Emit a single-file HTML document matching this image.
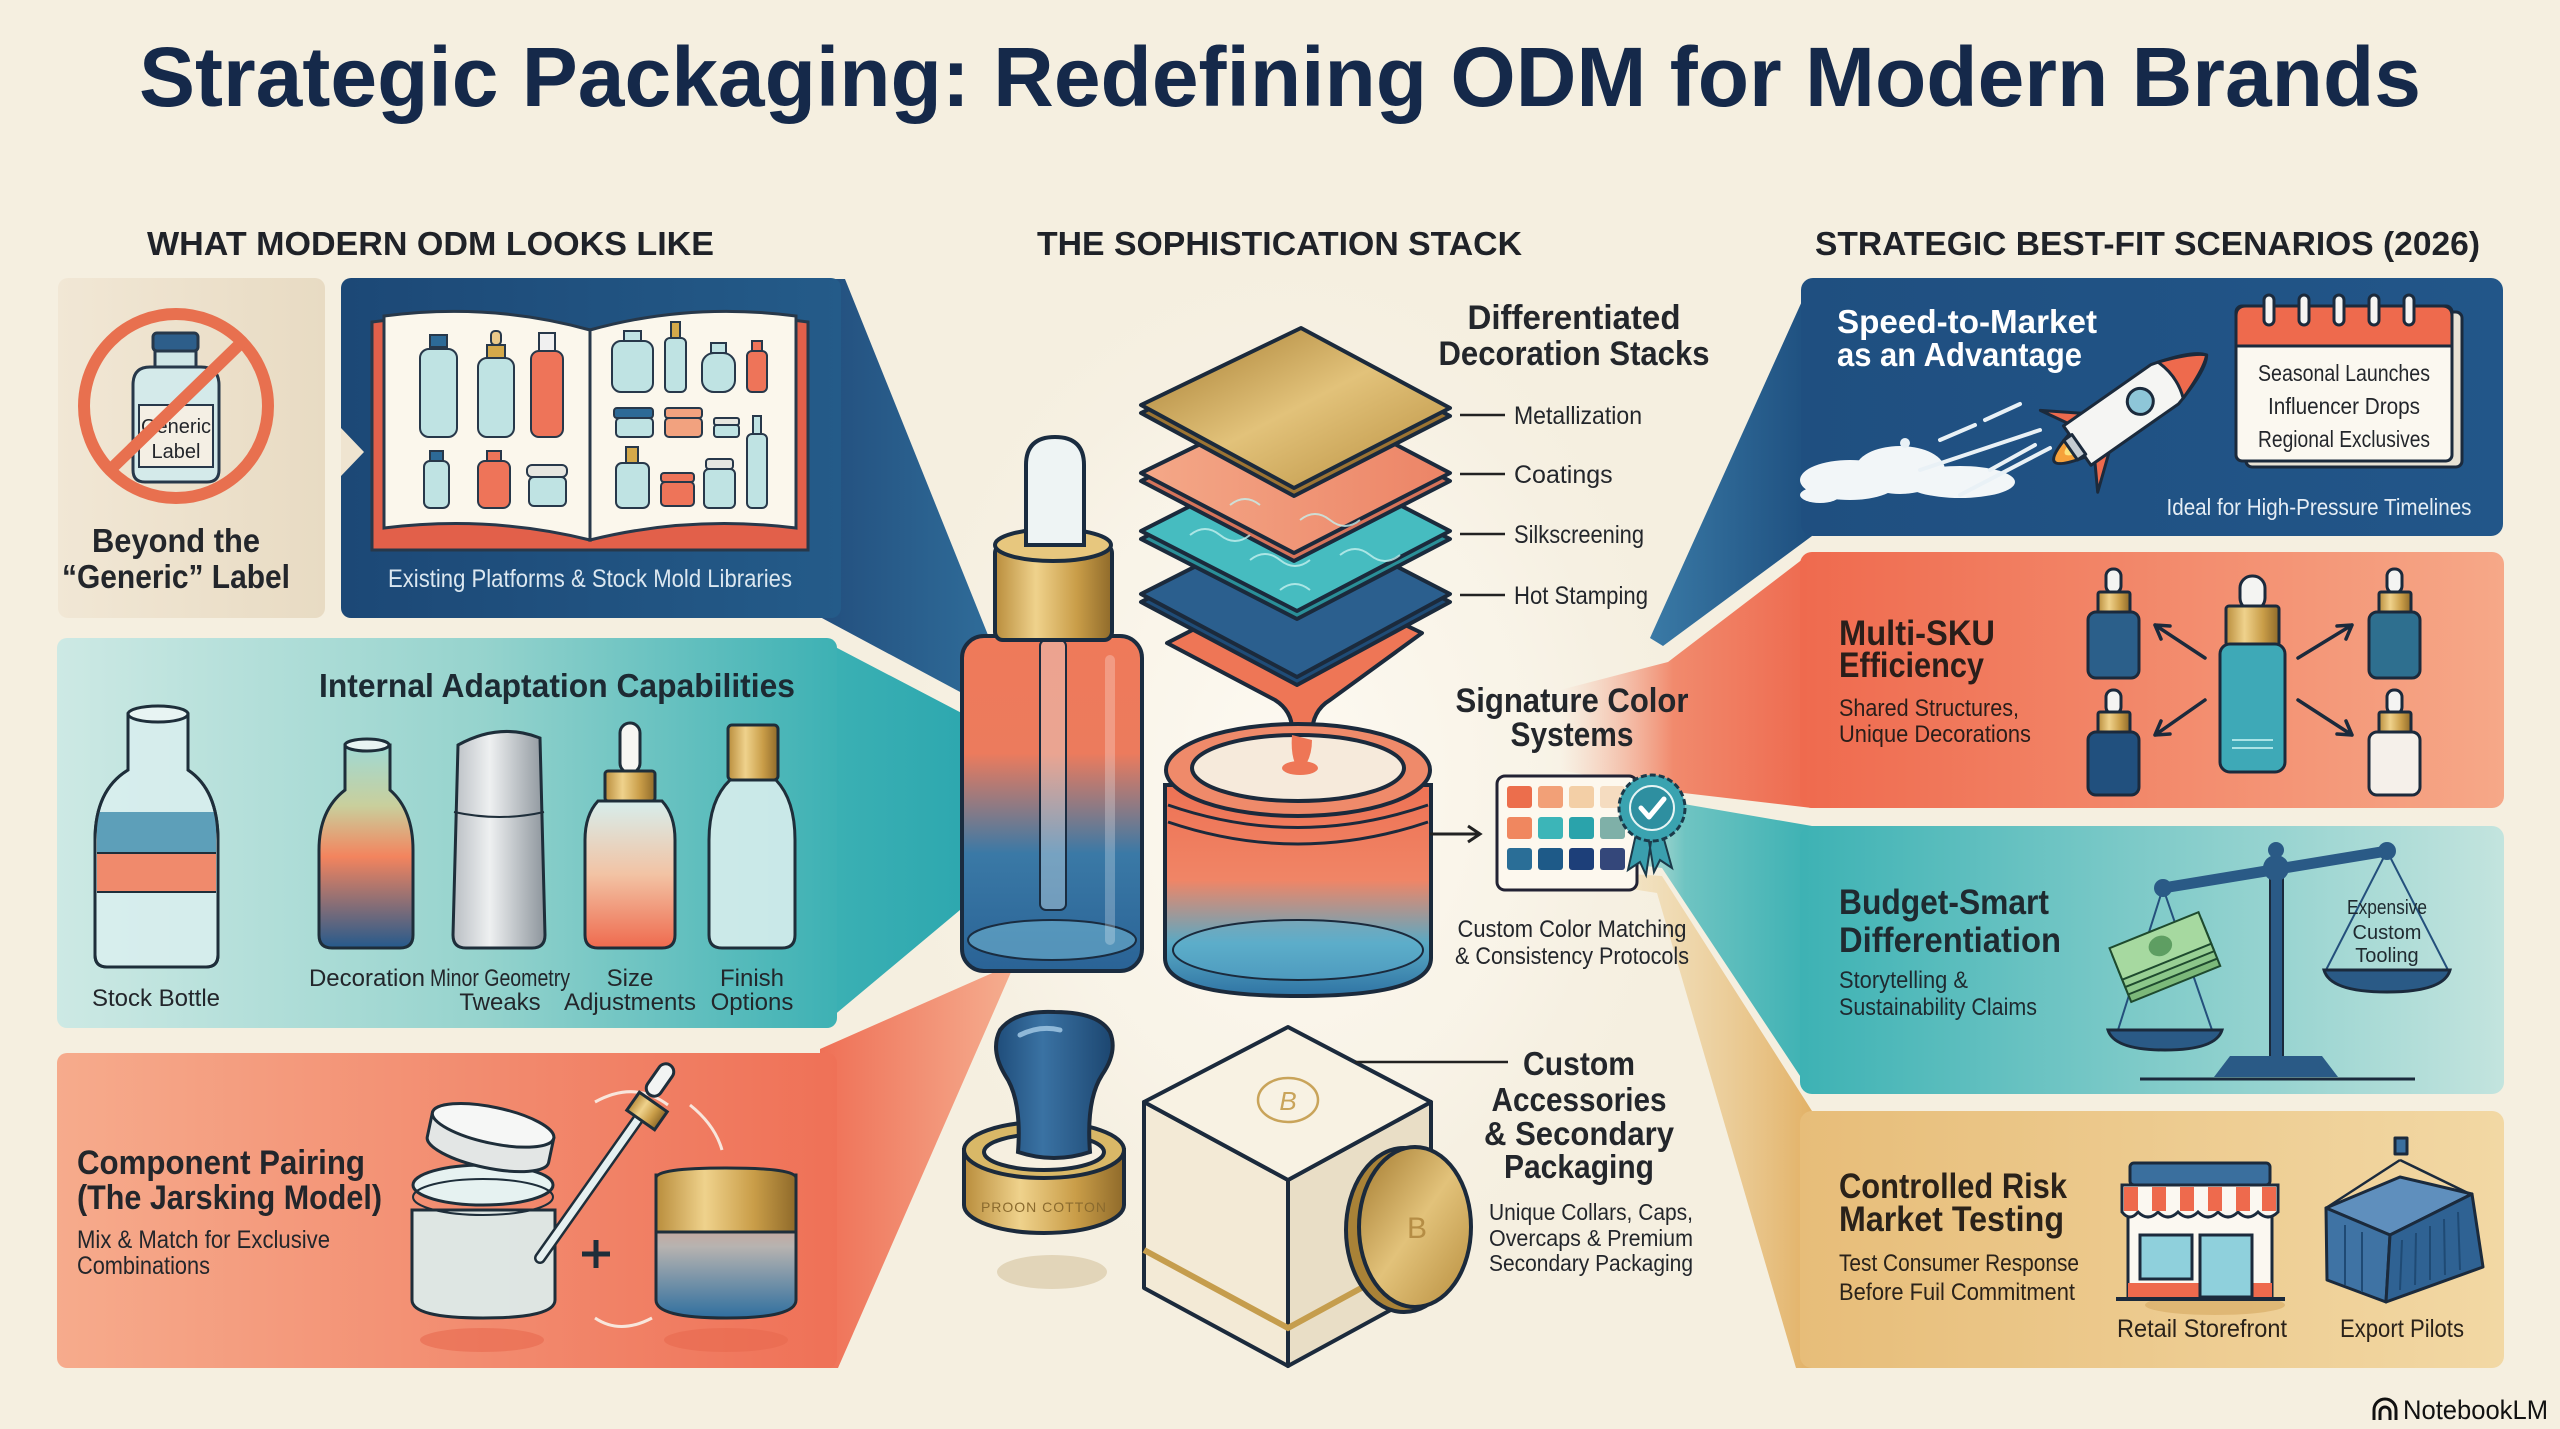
<!DOCTYPE html>
<html><head><meta charset="utf-8">
<style>
html,body{margin:0;padding:0;background:#f5efe0;}
svg{display:block;}
text{font-family:"Liberation Sans",Arial,sans-serif;}
.h{font-weight:bold;fill:#1f2228;}
.s{fill:#23262b;}
</style></head><body>
<svg width="2560" height="1429" viewBox="0 0 2560 1429" xmlns="http://www.w3.org/2000/svg">
<defs>
<radialGradient id="glow" cx="0.5" cy="0.5" r="0.5"><stop offset="0" stop-color="#fdfaf2"/><stop offset="0.6" stop-color="#faf5ea" stop-opacity="0.7"/><stop offset="1" stop-color="#f5efe0" stop-opacity="0"/></radialGradient>
<linearGradient id="gBlueL" x1="0" x2="1"><stop offset="0" stop-color="#1c4876"/><stop offset="1" stop-color="#245b89"/></linearGradient>
<linearGradient id="gTealL" x1="0" x2="1"><stop offset="0" stop-color="#cde9e4"/><stop offset="0.55" stop-color="#95d3cd"/><stop offset="1" stop-color="#3db1b4"/></linearGradient>
<linearGradient id="gOrL" x1="0" x2="1"><stop offset="0" stop-color="#f6ab8c"/><stop offset="1" stop-color="#ef7157"/></linearGradient>
<linearGradient id="gBeyond" x1="0" x2="1"><stop offset="0" stop-color="#f1e7d5"/><stop offset="1" stop-color="#e8dbc3"/></linearGradient>
<linearGradient id="wBlueL" gradientUnits="userSpaceOnUse" x1="820" y1="0" x2="990" y2="0"><stop offset="0" stop-color="#234f7e"/><stop offset="1" stop-color="#2f6c99"/></linearGradient>
<linearGradient id="wTealL" gradientUnits="userSpaceOnUse" x1="820" y1="0" x2="990" y2="0"><stop offset="0" stop-color="#3cb1b4"/><stop offset="1" stop-color="#2ba6ae"/></linearGradient>
<linearGradient id="wOrL" gradientUnits="userSpaceOnUse" x1="820" y1="0" x2="1015" y2="0"><stop offset="0" stop-color="#ef7056"/><stop offset="1" stop-color="#f5ae90"/></linearGradient>
<linearGradient id="gBlueR" x1="0" x2="1"><stop offset="0" stop-color="#1f4f80"/><stop offset="1" stop-color="#225689"/></linearGradient>
<linearGradient id="gOrR" x1="0" x2="1"><stop offset="0" stop-color="#ef6a4e"/><stop offset="1" stop-color="#f6a888"/></linearGradient>
<linearGradient id="gTealR" x1="0" x2="1"><stop offset="0" stop-color="#3db2b4"/><stop offset="1" stop-color="#c3e4de"/></linearGradient>
<linearGradient id="gGoldR" x1="0" x2="1"><stop offset="0" stop-color="#e7bd79"/><stop offset="1" stop-color="#f2d8a4"/></linearGradient>
<linearGradient id="wBlueR" gradientUnits="userSpaceOnUse" x1="1650" y1="0" x2="1812" y2="0"><stop offset="0" stop-color="#3a7aa6"/><stop offset="1" stop-color="#1e4f7f"/></linearGradient>
<linearGradient id="wOrR" gradientUnits="userSpaceOnUse" x1="1560" y1="0" x2="1812" y2="0"><stop offset="0" stop-color="#f5b6a0" stop-opacity="0"/><stop offset="0.45" stop-color="#f18a6d"/><stop offset="1" stop-color="#ee6a4f"/></linearGradient>
<linearGradient id="wTealR" gradientUnits="userSpaceOnUse" x1="1600" y1="0" x2="1812" y2="0"><stop offset="0" stop-color="#b5dfd9" stop-opacity="0.3"/><stop offset="0.4" stop-color="#6fc4c2"/><stop offset="1" stop-color="#3cb1b3"/></linearGradient>
<linearGradient id="wGoldR" gradientUnits="userSpaceOnUse" x1="1600" y1="0" x2="1812" y2="0"><stop offset="0" stop-color="#f1dcae" stop-opacity="0.4"/><stop offset="1" stop-color="#e2b166"/></linearGradient>
<linearGradient id="gold" x1="0" x2="1"><stop offset="0" stop-color="#b98d3c"/><stop offset="0.35" stop-color="#efd28c"/><stop offset="0.7" stop-color="#c99d48"/><stop offset="1" stop-color="#8f6a2a"/></linearGradient>
<linearGradient id="goldD" x1="0" y1="0" x2="1" y2="1"><stop offset="0" stop-color="#a37a2f"/><stop offset="0.5" stop-color="#e2c27a"/><stop offset="1" stop-color="#b88e3e"/></linearGradient>
<linearGradient id="bottleC" x1="0" y1="0" x2="0" y2="1"><stop offset="0" stop-color="#ef7a5a"/><stop offset="0.35" stop-color="#ec7b5d"/><stop offset="0.65" stop-color="#3a79a6"/><stop offset="1" stop-color="#2a6396"/></linearGradient>
<linearGradient id="jarC" x1="0" y1="0" x2="0" y2="1"><stop offset="0" stop-color="#ee7254"/><stop offset="0.45" stop-color="#f08566"/><stop offset="0.75" stop-color="#59a9c4"/><stop offset="1" stop-color="#2f74a4"/></linearGradient>
<linearGradient id="decoB" x1="0" y1="0" x2="0" y2="1"><stop offset="0" stop-color="#9fd9d4"/><stop offset="0.3" stop-color="#c9cf9c"/><stop offset="0.55" stop-color="#f3845e"/><stop offset="1" stop-color="#255a8c"/></linearGradient>
<linearGradient id="silver" x1="0" x2="1"><stop offset="0" stop-color="#b9bec3"/><stop offset="0.4" stop-color="#eef0f1"/><stop offset="1" stop-color="#8d959c"/></linearGradient>
<linearGradient id="sizeB" x1="0" y1="0" x2="0" y2="1"><stop offset="0" stop-color="#d7eeec"/><stop offset="0.5" stop-color="#f2c3a4"/><stop offset="1" stop-color="#ef6a4e"/></linearGradient>
<linearGradient id="jarR" x1="0" y1="0" x2="0" y2="1"><stop offset="0" stop-color="#ef8366"/><stop offset="0.5" stop-color="#b7b3b0"/><stop offset="1" stop-color="#2f6f9f"/></linearGradient>
<linearGradient id="coral" x1="0" x2="1"><stop offset="0" stop-color="#f4a888"/><stop offset="1" stop-color="#ec8466"/></linearGradient>
<linearGradient id="knob" x1="0" x2="1"><stop offset="0" stop-color="#1f4d7a"/><stop offset="0.4" stop-color="#3a72a3"/><stop offset="1" stop-color="#1c4670"/></linearGradient>
</defs>

<rect width="2560" height="1429" fill="#f5efe0"/>
<ellipse cx="1290" cy="780" rx="420" ry="560" fill="url(#glow)"/>

<!-- Title -->
<text x="139" y="106" font-size="84" font-weight="bold" fill="#15294a" textLength="2282" lengthAdjust="spacingAndGlyphs">Strategic Packaging: Redefining ODM for Modern Brands</text>

<!-- Section headers -->
<text x="147" y="255" font-size="33" class="h" textLength="567" lengthAdjust="spacingAndGlyphs">WHAT MODERN ODM LOOKS LIKE</text>
<text x="1037" y="255" font-size="33" class="h" textLength="485" lengthAdjust="spacingAndGlyphs">THE SOPHISTICATION STACK</text>
<text x="1815" y="255" font-size="33" class="h" textLength="665" lengthAdjust="spacingAndGlyphs">STRATEGIC BEST-FIT SCENARIOS (2026)</text>

<!-- Wedges -->
<polygon points="820,279 845,279 990,640 990,708 820,617" fill="url(#wBlueL)"/>
<polygon points="820,639 975,720 990,720 990,905 960,910 820,1027" fill="url(#wTealL)"/>
<polygon points="820,1049 1015,963 838,1368 820,1368" fill="url(#wOrL)"/>
<polygon points="1812,279 1812,536 1663,646 1650,638" fill="url(#wBlueR)"/>
<polygon points="1812,552 1812,808 1675,792 1560,770 1560,690 1668,662" fill="url(#wOrR)"/>
<polygon points="1812,826 1812,1094 1662,868 1600,860 1600,812 1672,802" fill="url(#wTealR)"/>
<polygon points="1812,1111 1812,1368 1796,1368 1657,893 1600,884 1600,872 1662,876" fill="url(#wGoldR)"/>

<!-- LEFT: Beyond box -->
<rect x="58" y="278" width="267" height="340" rx="10" fill="url(#gBeyond)"/>
<g stroke="#27384a" stroke-width="3">
<rect x="153" y="333" width="45" height="18" rx="4" fill="#2d5e8a"/>
<rect x="155" y="351" width="41" height="16" fill="#cfe6e6"/>
<path d="M133,385 Q133,367 150,367 L201,367 Q219,367 219,385 L219,470 Q219,482 207,482 L145,482 Q133,482 133,470 Z" fill="#d4eaea"/>
<rect x="139" y="405" width="74" height="62" fill="#f4efe4" stroke-width="2"/>
</g>
<text x="176" y="433" font-size="20" text-anchor="middle" class="s">Generic</text>
<text x="176" y="458" font-size="20" text-anchor="middle" class="s">Label</text>
<circle cx="176" cy="406" r="92" fill="none" stroke="#e8704f" stroke-width="12"/>
<line x1="242" y1="342" x2="110" y2="470" stroke="#e8704f" stroke-width="12" stroke-linecap="round"/>
<text x="176" y="552" font-size="33" font-weight="bold" text-anchor="middle" class="s" textLength="168" lengthAdjust="spacingAndGlyphs">Beyond the</text>
<text x="176" y="588" font-size="33" font-weight="bold" text-anchor="middle" class="s" textLength="228" lengthAdjust="spacingAndGlyphs">“Generic” Label</text>

<!-- LEFT: Blue book box -->
<rect x="341" y="278" width="500" height="340" rx="10" fill="url(#gBlueL)"/>
<polygon points="341,428 364,452 341,476" fill="#efe4d0"/>
<path d="M372,322 Q490,306 590,330 Q690,306 808,322 L808,550 L372,550 Z" fill="#e2604a" stroke="#27384a" stroke-width="3"/>
<path d="M384,316 Q490,302 590,330 L590,540 Q490,515 384,528 Z" fill="#fbf7ec" stroke="#27384a" stroke-width="3"/>
<path d="M590,330 Q690,302 796,316 L796,528 Q690,515 590,540 Z" fill="#fbf7ec" stroke="#27384a" stroke-width="3"/>
<g stroke="#27384a" stroke-width="2">
<rect x="430" y="335" width="17" height="12" fill="#2d6a96"/><rect x="420" y="349" width="37" height="88" rx="9" fill="#bfe3e3"/>
<rect x="491" y="331" width="10" height="14" rx="4" fill="#e9c98a"/><rect x="487" y="345" width="18" height="13" fill="#d4a94a"/><rect x="478" y="358" width="36" height="79" rx="9" fill="#bfe3e3"/>
<rect x="539" y="333" width="16" height="18" fill="#f0f0f0"/><rect x="531" y="351" width="32" height="86" rx="8" fill="#ee7459"/>
<rect x="430" y="451" width="13" height="10" fill="#2d6a96"/><rect x="424" y="461" width="25" height="47" rx="6" fill="#bfe3e3"/>
<rect x="487" y="451" width="14" height="10" fill="#ee7459"/><rect x="478" y="461" width="32" height="47" rx="7" fill="#ee7459"/>
<rect x="527" y="465" width="40" height="12" rx="5" fill="#e6e6e0"/><rect x="529" y="477" width="37" height="29" rx="5" fill="#bfe3e3"/>
<rect x="624" y="331" width="17" height="10" fill="#bfe3e3"/><rect x="612" y="341" width="41" height="51" rx="9" fill="#bfe3e3"/>
<rect x="671" y="322" width="9" height="16" fill="#d4a94a"/><rect x="665" y="338" width="21" height="54" rx="5" fill="#bfe3e3"/>
<rect x="711" y="343" width="15" height="10" fill="#bfe3e3"/><rect x="702" y="353" width="33" height="39" rx="12" fill="#bfe3e3"/>
<rect x="752" y="341" width="10" height="10" fill="#ee7459"/><rect x="747" y="351" width="20" height="41" rx="5" fill="#ee7459"/>
<rect x="614" y="408" width="39" height="10" rx="3" fill="#2d6a96"/><rect x="616" y="418" width="37" height="19" rx="4" fill="#bfe3e3"/>
<rect x="665" y="408" width="37" height="10" rx="3" fill="#f2a27f"/><rect x="665" y="418" width="37" height="19" rx="4" fill="#f2a27f"/>
<rect x="714" y="418" width="25" height="7" rx="2" fill="#e6e6e0"/><rect x="714" y="425" width="25" height="12" rx="3" fill="#bfe3e3"/>
<rect x="626" y="447" width="12" height="16" fill="#d4a94a"/><rect x="616" y="463" width="33" height="45" rx="6" fill="#bfe3e3"/>
<rect x="661" y="473" width="33" height="9" rx="3" fill="#ee7459"/><rect x="661" y="482" width="33" height="24" rx="4" fill="#ee7459"/>
<rect x="706" y="459" width="27" height="10" rx="3" fill="#e6e6e0"/><rect x="704" y="469" width="31" height="39" rx="5" fill="#bfe3e3"/>
<rect x="753" y="416" width="8" height="18" fill="#bfe3e3"/><rect x="747" y="434" width="20" height="74" rx="5" fill="#bfe3e3"/>
</g>
<text x="590" y="587" font-size="25" text-anchor="middle" fill="#dbe7f0" textLength="404" lengthAdjust="spacingAndGlyphs">Existing Platforms &amp; Stock Mold Libraries</text>

<!-- LEFT: Teal box -->
<rect x="57" y="638" width="780" height="390" rx="10" fill="url(#gTealL)"/>
<text x="319" y="697" font-size="33" font-weight="bold" fill="#1d2a33" textLength="476" lengthAdjust="spacingAndGlyphs">Internal Adaptation Capabilities</text>
<g stroke="#1e2e3a" stroke-width="3">
<path d="M95,955 L95,840 Q95,790 128,770 L128,714 L188,714 L188,770 Q218,790 218,840 L218,955 Q218,967 206,967 L107,967 Q95,967 95,955 Z" fill="#d9efee" fill-opacity="0.85"/>
<path d="M97,812 L216,812 L216,853 L97,853 Z" fill="#5d9fb9" stroke="none"/>
<path d="M97,853 L216,853 L216,892 L97,892 Z" fill="#f08a6c" stroke="none"/>
<path d="M95,955 L95,840 Q95,790 128,770 L128,714 L188,714 L188,770 Q218,790 218,840 L218,955 Q218,967 206,967 L107,967 Q95,967 95,955 Z" fill="none"/>
<ellipse cx="158" cy="714" rx="30" ry="8" fill="#e8f4f3"/>
<line x1="97" y1="853" x2="216" y2="853" stroke-width="2"/><line x1="97" y1="892" x2="216" y2="892" stroke-width="2"/>
<path d="M345,745 L390,745 L390,790 Q413,810 413,850 L413,935 Q413,948 400,948 L332,948 Q319,948 319,935 L319,850 Q319,810 345,790 Z" fill="url(#decoB)"/>
<ellipse cx="367" cy="745" rx="22" ry="6" fill="#e8f4f3"/>
<path d="M458,745 Q500,722 540,738 L545,935 Q545,948 532,948 L466,948 Q453,948 453,935 Z" fill="url(#silver)"/>
<path d="M454,812 Q500,822 544,812" fill="none" stroke-width="2"/>
<rect x="620" y="723" width="20" height="50" rx="10" fill="#f6f6f2"/>
<rect x="605" y="771" width="50" height="30" rx="3" fill="url(#gold)"/>
<path d="M598,801 L662,801 Q675,815 675,840 L675,935 Q675,948 662,948 L598,948 Q585,948 585,935 L585,840 Q585,815 598,801 Z" fill="url(#sizeB)"/>
<rect x="728" y="725" width="50" height="55" rx="4" fill="url(#gold)"/>
<path d="M730,780 L776,780 Q795,800 795,840 L795,935 Q795,948 782,948 L722,948 Q709,948 709,935 L709,840 Q709,800 730,780 Z" fill="#dff1f0" fill-opacity="0.85"/>
</g>
<g font-size="24" class="s" text-anchor="middle">
<text x="156" y="1006">Stock Bottle</text>
<text x="367" y="986">Decoration</text>
<text x="500" y="986" textLength="140" lengthAdjust="spacingAndGlyphs">Minor Geometry</text>
<text x="500" y="1010">Tweaks</text>
<text x="630" y="986">Size</text>
<text x="630" y="1010">Adjustments</text>
<text x="752" y="986">Finish</text>
<text x="752" y="1010">Options</text>
</g>

<!-- LEFT: Orange box -->
<rect x="57" y="1053" width="780" height="315" rx="10" fill="url(#gOrL)"/>
<text x="77" y="1174" font-size="34" font-weight="bold" class="s" textLength="288" lengthAdjust="spacingAndGlyphs">Component Pairing</text>
<text x="77" y="1209" font-size="34" font-weight="bold" class="s" textLength="305" lengthAdjust="spacingAndGlyphs">(The Jarsking Model)</text>
<text x="77" y="1248" font-size="25" class="s" textLength="253" lengthAdjust="spacingAndGlyphs">Mix &amp; Match for Exclusive</text>
<text x="77" y="1274" font-size="25" class="s" textLength="133" lengthAdjust="spacingAndGlyphs">Combinations</text>
<ellipse cx="482" cy="1340" rx="62" ry="12" fill="#e8694f" opacity="0.6"/>
<ellipse cx="726" cy="1340" rx="62" ry="12" fill="#e8694f" opacity="0.6"/>
<path d="M595,1102 Q635,1080 668,1105" fill="none" stroke="#f8e6dc" stroke-width="3"/>
<path d="M690,1105 Q715,1125 722,1150" fill="none" stroke="#f8e6dc" stroke-width="3"/>
<path d="M595,1318 Q620,1335 652,1318" fill="none" stroke="#f8e6dc" stroke-width="3"/>
<g stroke="#1e2e3a" stroke-width="3">
<path d="M412,1210 L555,1210 L555,1300 Q555,1318 483,1318 Q412,1318 412,1300 Z" fill="#dcefef" fill-opacity="0.9"/>
<ellipse cx="483" cy="1185" rx="70" ry="20" fill="#e6f2f1"/>
<ellipse cx="483" cy="1197" rx="70" ry="18" fill="none" stroke-width="2"/>
<g transform="rotate(12 490 1140)">
<path d="M428,1125 L428,1150 A62,18 0 0 0 552,1150 L552,1125 Z" fill="#e3e6e5"/>
<ellipse cx="490" cy="1125" rx="62" ry="18" fill="#f6f7f6"/>
</g>
<line x1="540" y1="1258" x2="648" y2="1105" stroke-width="12" stroke-linecap="round"/>
<line x1="540" y1="1258" x2="648" y2="1105" stroke="#e6f0f0" stroke-width="7" stroke-linecap="round"/>
<rect x="630" y="1100" width="34" height="22" transform="rotate(35 647 1111)" fill="url(#gold)"/>
<rect x="652" y="1062" width="16" height="36" rx="8" transform="rotate(35 660 1080)" fill="#f2f4f3"/>
<path d="M656,1175 L796,1175 L796,1300 Q796,1318 726,1318 Q656,1318 656,1300 Z" fill="url(#jarR)"/>
<path d="M656,1178 Q656,1168 726,1168 Q796,1168 796,1178 L796,1232 L656,1232 Z" fill="url(#gold)"/>
</g>
<path d="M596,1240 L596,1268 M582,1254 L610,1254" stroke="#1e2e3a" stroke-width="5"/>

<!-- CENTER: dropper bottle -->
<g stroke="#1a2c40" stroke-width="4">
<rect x="962" y="636" width="180" height="335" rx="22" fill="url(#bottleC)"/>
<ellipse cx="1052" cy="940" rx="84" ry="20" fill="#6fb3d0" fill-opacity="0.6" stroke-width="2"/>
<rect x="1040" y="640" width="26" height="270" rx="6" fill="#e9f2f3" fill-opacity="0.35" stroke-width="2"/>
<rect x="995" y="545" width="117" height="95" rx="8" fill="url(#gold)"/>
<ellipse cx="1053" cy="545" rx="58" ry="16" fill="#e7c77e"/>
<path d="M1026,545 L1026,465 Q1026,437 1055,437 Q1084,437 1084,465 L1084,545 Z" fill="#eef4f4"/>
</g>
<rect x="1105" y="655" width="10" height="290" rx="5" fill="#ffffff" opacity="0.25"/>

<!-- CENTER: decoration stack -->
<g stroke="#1b2a3c" stroke-width="4" stroke-linejoin="round">
<path d="M1167,643 L1300,575 L1422,633 L1330,700 Q1310,712 1312,740 Q1314,770 1300,772 Q1288,770 1292,735 Q1294,712 1275,700 Z" fill="#ee7656"/>
<polygon points="1141,602 1297,523 1450,602 1297,685" fill="#1f4c77"/>
<polygon points="1141,594 1297,515 1450,594 1297,677" fill="#2b5f8e"/>
<polygon points="1141,539 1297,460 1450,539 1297,619" fill="#2a8f98"/>
<polygon points="1141,531 1297,452 1450,531 1297,611" fill="#46bcc0"/>
<polygon points="1141,481 1301,403 1450,481 1294,561" fill="#d6735a"/>
<polygon points="1141,473 1301,395 1450,473 1294,553" fill="url(#coral)"/>
<polygon points="1141,413 1301,336 1450,416 1294,496" fill="#9c7433"/>
<polygon points="1141,405 1301,328 1450,408 1294,488" fill="url(#goldD)"/>
</g>
<g fill="none" stroke="#c6f0ee" stroke-width="2" opacity="0.8">
<path d="M1190,535 q15,-12 30,0 t30,0 M1250,560 q15,-12 30,0 t30,0 M1300,520 q15,-12 30,0 t30,0 M1340,555 q15,-12 30,0 t30,0 M1230,505 q15,-12 30,0 M1280,590 q15,-12 30,0"/>
</g>
<g stroke="#222" stroke-width="2.5">
<line x1="1460" y1="415" x2="1505" y2="415"/><line x1="1460" y1="474" x2="1505" y2="474"/><line x1="1460" y1="534" x2="1505" y2="534"/><line x1="1460" y1="595" x2="1505" y2="595"/>
</g>
<g font-size="25" class="s">
<text x="1514" y="424" textLength="128" lengthAdjust="spacingAndGlyphs">Metallization</text>
<text x="1514" y="483">Coatings</text>
<text x="1514" y="543" textLength="130" lengthAdjust="spacingAndGlyphs">Silkscreening</text>
<text x="1514" y="604" textLength="134" lengthAdjust="spacingAndGlyphs">Hot Stamping</text>
</g>
<text x="1574" y="329" font-size="34" font-weight="bold" text-anchor="middle" class="s" textLength="213" lengthAdjust="spacingAndGlyphs">Differentiated</text>
<text x="1574" y="365" font-size="34" font-weight="bold" text-anchor="middle" class="s" textLength="271" lengthAdjust="spacingAndGlyphs">Decoration Stacks</text>

<!-- CENTER: jar -->
<g stroke="#1b2a3c" stroke-width="4">
<path d="M1165,785 L1165,958 Q1165,996 1298,996 Q1431,996 1431,958 L1431,785 Z" fill="url(#jarC)"/>
<ellipse cx="1298" cy="950" rx="125" ry="30" fill="#5fb1cf" fill-opacity="0.5" stroke-width="2"/>
<path d="M1168,805 Q1298,850 1428,805" fill="none" stroke-width="3"/>
<path d="M1168,822 Q1298,866 1428,822" fill="none" stroke-width="3"/>
<ellipse cx="1298" cy="770" rx="132" ry="46" fill="#ef8a6a"/>
<ellipse cx="1298" cy="768" rx="106" ry="33" fill="#f6eadb"/>
</g>
<path d="M1292,735 Q1290,760 1300,772 Q1312,760 1312,740" fill="#ee7656"/>
<ellipse cx="1300" cy="768" rx="18" ry="7" fill="#ee7656"/>

<!-- CENTER: signature color -->
<text x="1572" y="712" font-size="34" font-weight="bold" text-anchor="middle" class="s" textLength="233" lengthAdjust="spacingAndGlyphs">Signature Color</text>
<text x="1572" y="746" font-size="34" font-weight="bold" text-anchor="middle" class="s" textLength="123" lengthAdjust="spacingAndGlyphs">Systems</text>
<line x1="1430" y1="834" x2="1478" y2="834" stroke="#222" stroke-width="3"/>
<path d="M1468,826 L1480,834 L1468,842" fill="none" stroke="#222" stroke-width="3"/>
<rect x="1497" y="776" width="140" height="114" rx="8" fill="#fdf8ee" stroke="#223" stroke-width="3"/>
<g>
<rect x="1507" y="786" width="25" height="22" rx="3" fill="#ec6e4c"/><rect x="1538" y="786" width="25" height="22" rx="3" fill="#f2a077"/><rect x="1569" y="786" width="25" height="22" rx="3" fill="#f3cfa6"/><rect x="1600" y="786" width="25" height="22" rx="3" fill="#f5dcc0"/>
<rect x="1507" y="817" width="25" height="22" rx="3" fill="#f0875f"/><rect x="1538" y="817" width="25" height="22" rx="3" fill="#3cb5b8"/><rect x="1569" y="817" width="25" height="22" rx="3" fill="#2aa3ab"/><rect x="1600" y="817" width="25" height="22" rx="3" fill="#7fb0a8"/>
<rect x="1507" y="848" width="25" height="22" rx="3" fill="#2a6e97"/><rect x="1538" y="848" width="25" height="22" rx="3" fill="#1e5a88"/><rect x="1569" y="848" width="25" height="22" rx="3" fill="#1d3f79"/><rect x="1600" y="848" width="25" height="22" rx="3" fill="#34477a"/>
</g>
<path d="M1638,825 L1628,870 L1640,862 L1646,875 L1652,835 Z M1660,825 L1672,868 L1660,860 L1654,872 L1648,835 Z" fill="#3a9fae" stroke="#1b3a4a" stroke-width="2"/>
<circle cx="1652" cy="808" r="33" fill="#3aa3b0" stroke="#1b3a4a" stroke-width="3" stroke-dasharray="6 3"/>
<circle cx="1652" cy="808" r="22" fill="#2e8fa0" stroke="#e6f4f4" stroke-width="2"/>
<path d="M1641,808 L1649,817 L1664,799" fill="none" stroke="#fff" stroke-width="5" stroke-linecap="round" stroke-linejoin="round"/>
<text x="1572" y="937" font-size="24" text-anchor="middle" class="s" textLength="229" lengthAdjust="spacingAndGlyphs">Custom Color Matching</text>
<text x="1572" y="964" font-size="24" text-anchor="middle" class="s" textLength="234" lengthAdjust="spacingAndGlyphs">&amp; Consistency Protocols</text>

<!-- CENTER: stamp -->
<ellipse cx="1052" cy="1272" rx="55" ry="17" fill="#e2d5b9"/>
<g stroke="#1b2a3c" stroke-width="4">
<path d="M964,1150 L964,1205 A80,28 0 0 0 1124,1205 L1124,1150 Z" fill="url(#gold)"/>
<ellipse cx="1044" cy="1150" rx="80" ry="28" fill="#d9b867"/>
<ellipse cx="1044" cy="1152" rx="60" ry="18" fill="#f6efe0"/>
<path d="M1018,1152 Q1022,1100 1005,1075 Q990,1050 1000,1030 Q1015,1010 1055,1012 Q1098,1012 1110,1032 Q1118,1052 1102,1075 Q1086,1100 1090,1152 Q1054,1164 1018,1152 Z" fill="url(#knob)"/>
</g>
<path d="M1020,1035 Q1040,1025 1060,1030" fill="none" stroke="#8fb8d8" stroke-width="5" stroke-linecap="round"/>
<text x="1044" y="1212" font-size="14" text-anchor="middle" fill="#8a6a2e" letter-spacing="1">PROON COTTON</text>

<!-- CENTER: box & coin -->
<g stroke="#1b2a3c" stroke-width="4" stroke-linejoin="round">
<polygon points="1144,1102 1288,1180 1288,1366 1144,1288" fill="#f3ead6"/>
<polygon points="1288,1180 1431,1102 1431,1288 1288,1366" fill="#e9dec6"/>
<polygon points="1288,1027 1431,1102 1288,1180 1144,1102" fill="#f8f2e3"/>
</g>
<polyline points="1144,1250 1288,1328 1431,1250" fill="none" stroke="#c59d4d" stroke-width="6"/>
<ellipse cx="1288" cy="1100" rx="30" ry="22" fill="none" stroke="#c9a45a" stroke-width="2.5"/>
<text x="1288" y="1110" font-size="26" text-anchor="middle" fill="#c9a45a" font-style="italic">B</text>
<line x1="1355" y1="1062" x2="1508" y2="1062" stroke="#222" stroke-width="2.5"/>
<g stroke="#1b2a3c" stroke-width="4">
<ellipse cx="1404" cy="1230" rx="58" ry="82" fill="#a98237"/>
<ellipse cx="1415" cy="1227" rx="56" ry="80" fill="url(#goldD)"/>
</g>
<text x="1417" y="1238" font-size="30" text-anchor="middle" fill="#b58d45">B</text>

<text x="1579" y="1075" font-size="33" font-weight="bold" text-anchor="middle" class="s" textLength="112" lengthAdjust="spacingAndGlyphs">Custom</text>
<text x="1579" y="1111" font-size="33" font-weight="bold" text-anchor="middle" class="s" textLength="175" lengthAdjust="spacingAndGlyphs">Accessories</text>
<text x="1579" y="1145" font-size="33" font-weight="bold" text-anchor="middle" class="s" textLength="190" lengthAdjust="spacingAndGlyphs">&amp; Secondary</text>
<text x="1579" y="1178" font-size="33" font-weight="bold" text-anchor="middle" class="s" textLength="150" lengthAdjust="spacingAndGlyphs">Packaging</text>
<text x="1591" y="1220" font-size="23" text-anchor="middle" class="s" textLength="204" lengthAdjust="spacingAndGlyphs">Unique Collars, Caps,</text>
<text x="1591" y="1246" font-size="23" text-anchor="middle" class="s" textLength="204" lengthAdjust="spacingAndGlyphs">Overcaps &amp; Premium</text>
<text x="1591" y="1271" font-size="23" text-anchor="middle" class="s" textLength="204" lengthAdjust="spacingAndGlyphs">Secondary Packaging</text>

<!-- RIGHT: blue box -->
<rect x="1801" y="278" width="702" height="258" rx="12" fill="url(#gBlueR)"/>
<text x="1837" y="333" font-size="33" font-weight="bold" fill="#ffffff" textLength="260" lengthAdjust="spacingAndGlyphs">Speed-to-Market</text>
<text x="1837" y="366" font-size="33" font-weight="bold" fill="#ffffff" textLength="245" lengthAdjust="spacingAndGlyphs">as an Advantage</text>
<g fill="#f2f6f8">
<ellipse cx="1850" cy="480" rx="50" ry="20"/><ellipse cx="1900" cy="470" rx="45" ry="24"/><ellipse cx="1960" cy="482" rx="55" ry="16"/><ellipse cx="1820" cy="495" rx="20" ry="8"/>
</g>
<g stroke="#e9f1f6" stroke-width="4" stroke-linecap="round">
<line x1="1920" y1="470" x2="2040" y2="430"/><line x1="1960" y1="495" x2="2050" y2="448"/><line x1="1990" y1="470" x2="2035" y2="445"/><line x1="1940" y1="440" x2="1975" y2="425"/><line x1="1985" y1="420" x2="2020" y2="404"/>
</g>
<circle cx="1905" cy="443" r="5" fill="#e9f1f6"/>
<g transform="translate(2128,410) rotate(-35)" stroke="#1b2a3c" stroke-width="3" stroke-linejoin="round">
<path d="M-62,-14 Q-118,0 -62,14 Z" fill="#f6a13a"/>
<path d="M-62,-8 Q-92,0 -62,8 Z" fill="#fde17a" stroke="none"/>
<path d="M-40,-24 L-72,-50 L-56,-22 Z" fill="#ee6a4d"/>
<path d="M-40,24 L-72,50 L-56,22 Z" fill="#ee6a4d"/>
<path d="M-62,-24 L45,-24 Q88,-12 96,0 Q88,12 45,24 L-62,24 Z" fill="#f5f5f3"/>
<path d="M52,-22 Q86,-10 96,0 Q86,10 52,22 Q60,0 52,-22 Z" fill="#ee6a4d"/>
<circle cx="15" cy="0" r="13" fill="#8ec6d8"/>
<rect x="-70" y="-12" width="10" height="24" fill="#c5ccd2"/>
</g>
<g stroke="#1b2a3c" stroke-width="3">
<rect x="2246" y="312" width="216" height="155" rx="6" fill="#e8e2d4"/>
<rect x="2236" y="306" width="216" height="155" rx="6" fill="#fbf8f0"/>
<path d="M2236,346 L2236,316 Q2236,306 2246,306 L2442,306 Q2452,306 2452,316 L2452,346 Z" fill="#ee6a4d"/>
</g>
<g stroke="#1b2a3c" stroke-width="3" fill="#f5f5f3">
<rect x="2264" y="295" width="10" height="30" rx="5"/><rect x="2299" y="295" width="10" height="30" rx="5"/><rect x="2334" y="295" width="10" height="30" rx="5"/><rect x="2369" y="295" width="10" height="30" rx="5"/><rect x="2404" y="295" width="10" height="30" rx="5"/>
</g>
<g font-size="23" text-anchor="middle" class="s">
<text x="2344" y="381" textLength="172" lengthAdjust="spacingAndGlyphs">Seasonal Launches</text>
<text x="2344" y="414" textLength="152" lengthAdjust="spacingAndGlyphs">Influencer Drops</text>
<text x="2344" y="447" textLength="172" lengthAdjust="spacingAndGlyphs">Regional Exclusives</text>
</g>
<text x="2319" y="515" font-size="23" text-anchor="middle" fill="#e6eef5" textLength="305" lengthAdjust="spacingAndGlyphs">Ideal for High-Pressure Timelines</text>

<!-- RIGHT: orange box -->
<rect x="1800" y="552" width="704" height="256" rx="12" fill="url(#gOrR)"/>
<text x="1839" y="645" font-size="35" font-weight="bold" fill="#2a1e1a" textLength="156" lengthAdjust="spacingAndGlyphs">Multi-SKU</text>
<text x="1839" y="677" font-size="35" font-weight="bold" fill="#2a1e1a" textLength="145" lengthAdjust="spacingAndGlyphs">Efficiency</text>
<text x="1839" y="716" font-size="24" fill="#2a1e1a" textLength="180" lengthAdjust="spacingAndGlyphs">Shared Structures,</text>
<text x="1839" y="742" font-size="24" fill="#2a1e1a" textLength="192" lengthAdjust="spacingAndGlyphs">Unique Decorations</text>
<g stroke="#1b2a3c" stroke-width="3">
<rect x="2240" y="576" width="25" height="34" rx="12" fill="#f4f4f2"/>
<rect x="2226" y="606" width="53" height="40" rx="3" fill="url(#gold)"/>
<rect x="2220" y="644" width="65" height="128" rx="10" fill="#3ea9b7"/>
<rect x="2106" y="569" width="15" height="24" rx="7" fill="#f4f4f2"/><rect x="2098" y="592" width="32" height="22" rx="2" fill="url(#gold)"/><rect x="2088" y="612" width="51" height="66" rx="8" fill="#2b5f8a"/>
<rect x="2387" y="569" width="15" height="24" rx="7" fill="#f4f4f2"/><rect x="2379" y="592" width="32" height="22" rx="2" fill="url(#gold)"/><rect x="2369" y="612" width="51" height="66" rx="8" fill="#2e6f8f"/>
<rect x="2106" y="690" width="15" height="24" rx="7" fill="#f4f4f2"/><rect x="2098" y="712" width="32" height="22" rx="2" fill="url(#gold)"/><rect x="2088" y="732" width="51" height="63" rx="8" fill="#21507e"/>
<rect x="2387" y="690" width="15" height="24" rx="7" fill="#f4f4f2"/><rect x="2379" y="712" width="32" height="22" rx="2" fill="url(#gold)"/><rect x="2369" y="732" width="51" height="63" rx="8" fill="#f5f0ea"/>
</g>
<g stroke="#a9e3e6" stroke-width="2"><line x1="2232" y1="740" x2="2273" y2="740"/><line x1="2232" y1="748" x2="2273" y2="748"/></g>
<g stroke="#1b2a3c" stroke-width="3.5" fill="none" stroke-linecap="round">
<path d="M2205,658 L2155,625 M2155,625 L2170,626 M2155,625 L2161,639"/>
<path d="M2298,658 L2352,625 M2352,625 L2337,626 M2352,625 L2346,639"/>
<path d="M2205,700 L2155,735 M2155,735 L2161,721 M2155,735 L2170,734"/>
<path d="M2298,700 L2352,735 M2352,735 L2346,721 M2352,735 L2337,734"/>
</g>

<!-- RIGHT: teal box -->
<rect x="1800" y="826" width="704" height="268" rx="12" fill="url(#gTealR)"/>
<text x="1839" y="914" font-size="35" font-weight="bold" fill="#1f2a30" textLength="210" lengthAdjust="spacingAndGlyphs">Budget-Smart</text>
<text x="1839" y="952" font-size="35" font-weight="bold" fill="#1f2a30" textLength="222" lengthAdjust="spacingAndGlyphs">Differentiation</text>
<text x="1839" y="988" font-size="24" fill="#1f2a30" textLength="129" lengthAdjust="spacingAndGlyphs">Storytelling &amp;</text>
<text x="1839" y="1015" font-size="24" fill="#1f2a30" textLength="198" lengthAdjust="spacingAndGlyphs">Sustainability Claims</text>
<g stroke="#24507c" stroke-width="2" fill="none">
<path d="M2163,888 L2118,1030 M2163,888 L2212,1030"/>
<path d="M2387,851 L2326,970 M2387,851 L2448,970"/>
</g>
<path d="M2108,1030 L2222,1030 Q2216,1050 2165,1050 Q2114,1050 2108,1030 Z" fill="#2a5a86" stroke="#1b2a3c" stroke-width="3"/>
<path d="M2324,970 L2450,970 Q2444,992 2387,992 Q2330,992 2324,970 Z" fill="#2a5a86" stroke="#1b2a3c" stroke-width="3"/>
<rect x="2270" y="862" width="13" height="196" fill="#2a5a86" stroke="#1b2a3c" stroke-width="2"/>
<line x1="2163" y1="888" x2="2387" y2="851" stroke="#2a5a86" stroke-width="11" stroke-linecap="round"/>
<circle cx="2163" cy="888" r="9" fill="#2a5a86"/><circle cx="2387" cy="851" r="9" fill="#2a5a86"/>
<circle cx="2276" cy="868" r="13" fill="#2a5a86"/><circle cx="2276" cy="850" r="8" fill="#2a5a86"/>
<path d="M2230,1056 L2322,1056 L2338,1077 L2214,1077 Z" fill="#2a5a86"/>
<line x1="2140" y1="1079" x2="2415" y2="1079" stroke="#1b2a3c" stroke-width="3"/>
<g transform="translate(2160,945) rotate(-22)" stroke="#1e4a2e" stroke-width="2">
<rect x="-48" y="8" width="96" height="34" fill="#7cb97a"/>
<rect x="-48" y="0" width="96" height="34" fill="#8cc78a"/>
<rect x="-48" y="-8" width="96" height="34" fill="#98cf94"/>
<rect x="-48" y="-16" width="96" height="34" fill="#a6d9a0"/>
<ellipse cx="0" cy="1" rx="12" ry="10" fill="#5e9e62" stroke="none"/>
</g>
<g font-size="20" text-anchor="middle" fill="#1f2a30">
<text x="2387" y="914" textLength="80" lengthAdjust="spacingAndGlyphs">Expensive</text>
<text x="2387" y="939">Custom</text>
<text x="2387" y="962">Tooling</text>
</g>

<!-- RIGHT: gold box -->
<rect x="1800" y="1111" width="704" height="257" rx="12" fill="url(#gGoldR)"/>
<text x="1839" y="1198" font-size="35" font-weight="bold" fill="#2a221a" textLength="228" lengthAdjust="spacingAndGlyphs">Controlled Risk</text>
<text x="1839" y="1231" font-size="35" font-weight="bold" fill="#2a221a" textLength="225" lengthAdjust="spacingAndGlyphs">Market Testing</text>
<text x="1839" y="1271" font-size="24" fill="#2a221a" textLength="240" lengthAdjust="spacingAndGlyphs">Test Consumer Response</text>
<text x="1839" y="1300" font-size="24" fill="#2a221a" textLength="236" lengthAdjust="spacingAndGlyphs">Before Fuil Commitment</text>
<ellipse cx="2215" cy="1305" rx="70" ry="10" fill="#d9ae68" opacity="0.7"/>
<g stroke="#1b2a3c" stroke-width="3">
<rect x="2128" y="1212" width="144" height="86" fill="#fbf8f1"/>
<rect x="2128" y="1283" width="144" height="14" fill="#ee6a4d" stroke="none"/>
<rect x="2140" y="1235" width="52" height="44" fill="#8fd0dc"/>
<rect x="2200" y="1235" width="52" height="62" fill="#8fd0dc"/>
<rect x="2130" y="1163" width="140" height="22" rx="4" fill="#3a6f9e"/>
<path d="M2122,1185 L2278,1185 L2278,1212 Q2268,1222 2258,1212 Q2248,1222 2238,1212 Q2228,1222 2218,1212 Q2208,1222 2198,1212 Q2188,1222 2178,1212 Q2168,1222 2158,1212 Q2148,1222 2138,1212 Q2130,1222 2122,1212 Z" fill="#fbf8f1"/>
</g>
<g fill="#ee6a4d"><rect x="2124" y="1187" width="14" height="24"/><rect x="2152" y="1187" width="14" height="24"/><rect x="2180" y="1187" width="14" height="24"/><rect x="2208" y="1187" width="14" height="24"/><rect x="2236" y="1187" width="14" height="24"/><rect x="2262" y="1187" width="14" height="24"/></g>
<line x1="2116" y1="1299" x2="2285" y2="1299" stroke="#1b2a3c" stroke-width="4"/>
<g stroke="#1b2a3c" stroke-width="3" stroke-linejoin="round">
<line x1="2400" y1="1160" x2="2326" y2="1208" stroke-width="2.5"/><line x1="2400" y1="1160" x2="2470" y2="1194" stroke-width="2.5"/>
<rect x="2395" y="1138" width="12" height="16" fill="#3a6f9e"/>
<polygon points="2326,1208 2400,1177 2472,1194 2390,1235" fill="#5f8fbd"/>
<polygon points="2326,1208 2390,1235 2386,1302 2327,1280" fill="#3f73a4"/>
<polygon points="2390,1235 2472,1194 2483,1267 2386,1302" fill="#2f6293"/>
</g>
<g stroke="#1f4a74" stroke-width="2"><line x1="2402" y1="1240" x2="2400" y2="1290"/><line x1="2416" y1="1233" x2="2415" y2="1285"/><line x1="2430" y1="1226" x2="2430" y2="1280"/><line x1="2444" y1="1219" x2="2445" y2="1275"/><line x1="2458" y1="1212" x2="2460" y2="1270"/><line x1="2345" y1="1225" x2="2345" y2="1285"/><line x1="2362" y1="1232" x2="2362" y2="1292"/></g>
<text x="2202" y="1337" font-size="25" text-anchor="middle" fill="#2a221a" textLength="170" lengthAdjust="spacingAndGlyphs">Retail Storefront</text>
<text x="2402" y="1337" font-size="25" text-anchor="middle" fill="#2a221a" textLength="124" lengthAdjust="spacingAndGlyphs">Export Pilots</text>

<!-- NotebookLM -->
<g fill="none" stroke="#111" stroke-width="3">
<path d="M2374,1420 L2374,1410 A11,11 0 0 1 2396,1410 L2396,1420"/>
<path d="M2380,1420 L2380,1412 A5,5 0 0 1 2390,1412 L2390,1420"/>
</g>
<text x="2403" y="1419" font-size="27" fill="#111" textLength="145" lengthAdjust="spacingAndGlyphs">NotebookLM</text>
</svg>
</body></html>
